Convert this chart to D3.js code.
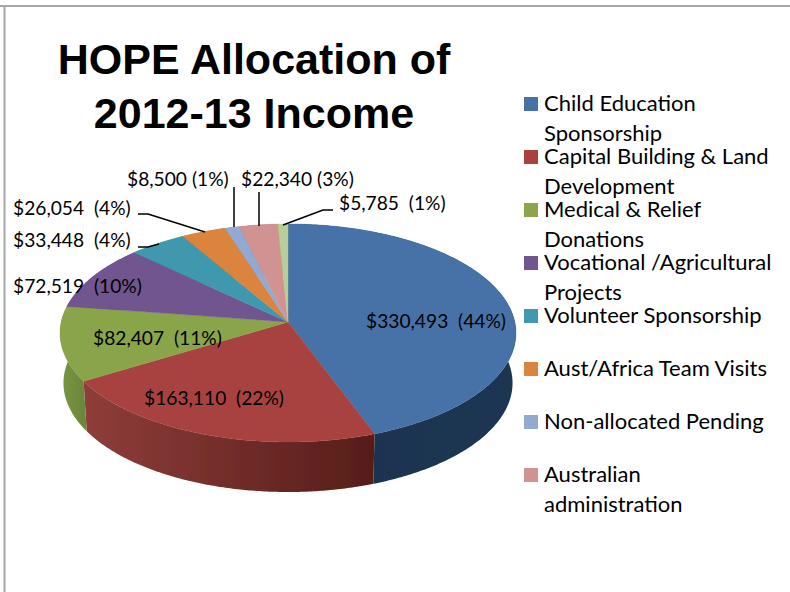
<!DOCTYPE html>
<html><head><meta charset="utf-8">
<script src="https://cdn.jsdelivr.net/npm/d3@7"></script>
<style>html,body{margin:0;padding:0;background:#fff}svg{display:block}text{white-space:pre}</style>
</head><body><svg id="c" width="790" height="592"></svg>
<script>
const values=[330493,163110,82407,72519,33448,26054,8500,22340,5785];
const amountText=["$330,493  (44%)","$163,110  (22%)","$82,407  (11%)","$72,519  (10%)","$33,448  (4%)","$26,054  (4%)","$8,500 (1%)","$22,340 (3%)","$5,785  (1%)"];
const colors=["#4672a8","#a8423f","#8aa54a","#71558f","#4198af","#db843d","#93a9cf","#d19392","#b9cd96"];
const sideLeft=["#1a3250","#8f3d3a","#7b9642","#5a4373","#337c8c","#ab662e","#7385a2","#a27372","#92a177"];
const sideRight=["#1c3552","#561d19","#6c873b","#5a4373","#337c8c","#ab662e","#7385a2","#a27372","#92a177"];
const legendLines=[["Child Education","Sponsorship"],["Capital Building & Land","Development"],["Medical & Relief","Donations"],["Vocational /Agricultural","Projects"],["Volunteer Sponsorship"],["Aust/Africa Team Visits"],["Non-allocated Pending"],["Australian","administration"]];
const titleLines=["HOPE Allocation of","2012-13 Income"];

const labelPos=[[366,328],[144,405],[93,345],[13,293],[13,247],[13,215],[127,186],[241,186],[339,210]];
const leaders=[[[138,214],[148,214],[205,232]],[[138,247],[148,247],[159,244]],[[234,187],[234,227]],[[259,192],[259,226]],[[333,210],[323,210],[283,225]]];

const svg=d3.select("#c");
const defs=svg.append("defs");
defs.append("filter").attr("id","soft").append("feGaussianBlur").attr("stdDeviation",0.5);

// frame
svg.append("path").attr("d","M0,6H790M4.5,6V592").attr("fill","none").attr("stroke","#a6a6a6").attr("stroke-width",2);

// perspective disc
const k=0.1009, cx=288, cy=322, rxP=226.8, ryP=107.9, depth=50;
const scaleX=d3.scaleLinear().domain([-1,1]).range([cx-rxP,cx+rxP]);
const scaleY=d3.scaleLinear().domain([-1,1]).range([cy-ryP,cy+ryP]);
function proj(a,r=1,dy=0,s=1){
  const u=r*Math.sin(a), v=-r*Math.cos(a), w=1-k*v;
  return [cx+(scaleX(u/w)-cx)*s, scaleY(v/w)+dy];
}
const arcs=d3.pie().sort(null)(values);
const line=d3.line();
function rim(d,dy=0,s=1){
  const n=Math.max(2,Math.ceil((d.endAngle-d.startAngle)/0.01));
  return d3.range(n+1).map(i=>proj(d.startAngle+(d.endAngle-d.startAngle)*i/n,1,dy,s));
}
const g=svg.append("g").attr("filter","url(#soft)");
arcs.forEach((d,i)=>{
  const top=rim(d), bot=rim(d,depth,0.985);
  const xs=top.map(p=>p[0]);
  const id="side"+i;
  const gr=defs.append("linearGradient").attr("id",id).attr("gradientUnits","userSpaceOnUse")
    .attr("x1",d3.min(xs)).attr("x2",d3.max(xs)).attr("y1",0).attr("y2",0);
  gr.append("stop").attr("offset",0).attr("stop-color",sideLeft[i]);
  gr.append("stop").attr("offset",1).attr("stop-color",sideRight[i]);
  g.append("path").attr("d",line(top.concat(bot.reverse()))+"Z").attr("fill",`url(#${id})`);
});
arcs.forEach((d,i)=>{
  g.append("path").attr("d",line([[cx,cy],...rim(d)])+"Z").attr("fill",colors[i]).attr("stroke",colors[i]).attr("stroke-width",0.4);
});

// leaders
leaders.forEach(p=>svg.append("path").attr("d",line(p)).attr("fill","none").attr("stroke","#000").attr("stroke-width",1.5));

// labels
amountText.forEach((t,i)=>svg.append("text").attr("x",labelPos[i][0]).attr("y",labelPos[i][1]).text(t)
  .attr("font-family","Lato").attr("font-size",19.2).attr("fill","#000"));

// title
titleLines.forEach((t,i)=>svg.append("text").attr("x",254).attr("y",74+i*54).attr("text-anchor","middle").text(t)
  .attr("font-family","Liberation Sans").attr("font-weight","bold").attr("font-size",43).attr("fill","#000"));

// legend
const legendY=d3.scaleLinear().domain([0,1]).range([111,164]);
legendLines.forEach((lines,i)=>{
  const y=legendY(i);
  svg.append("rect").attr("x",524).attr("y",y-14).attr("width",14).attr("height",14).attr("fill",colors[i]);
  lines.forEach((t,j)=>svg.append("text").attr("x",544).attr("y",y+j*30).text(t)
    .attr("font-family","Lato").attr("font-size",22).attr("fill","#000"));
});
</script></body></html>
